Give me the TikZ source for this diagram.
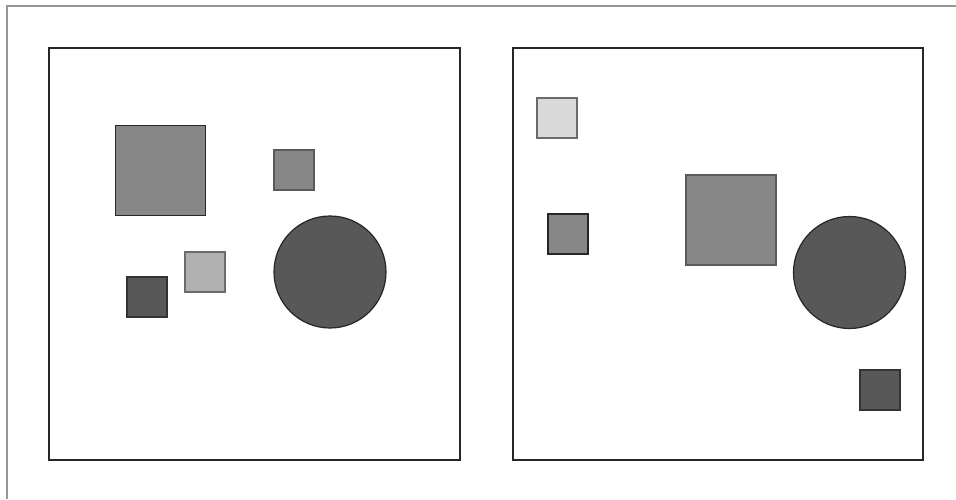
\documentclass[tikz,border=0pt]{standalone}
\usepackage{tikz}
\usetikzlibrary{positioning}
\definecolor{shapeLight}{RGB}{218,218,218}
\definecolor{shapePale}{RGB}{176,176,176}
\definecolor{shapeMid}{RGB}{135,135,135}
\definecolor{shapeDark}{RGB}{88,88,88}
\definecolor{edgeGray}{RGB}{90,90,90}
\definecolor{frameGray}{RGB}{150,150,150}
\tikzset{
  panel/.style={draw=black!85, line width=1.5pt, fill=white},
  outerframe/.style={draw=frameGray, line width=1.6pt},
  sq/.style={rectangle, minimum size=40pt, inner sep=0pt, line width=1.3pt},
  bigsq/.style={sq, minimum size=90pt},
  blob/.style={circle, minimum size=112pt, inner sep=0pt, line width=1.2pt,
               draw=black!85, fill=shapeDark},
}
\begin{document}
\begin{tikzpicture}[x=1pt, y=-1pt]
  \useasboundingbox (0,0) rectangle (956,499);
  \coordinate (frameTR) at (956,6); \coordinate (frameTL) at (7,6);
  \coordinate (frameBL) at (7,499);
  \draw[outerframe] (frameTR) -- (frameTL) -- (frameBL);
  % two panels
  \draw[panel] (49,48) rectangle (460,460);
  \draw[panel] (513,48) rectangle (923,460);
  % left panel
  \node[bigsq, draw=black!85, fill=shapeMid] (lbig) at (160.5,170.5) {};
  \node[sq, draw=edgeGray, fill=shapeMid] (ltop) at (294,170) {};
  \node[sq, draw=edgeGray!90, fill=shapePale] (lpale) at (205,272) {};
  \node[sq, draw=black!80, fill=shapeDark] (ldark) at (147,297) {};
  \node[blob] (lcirc) at (330,272) {};
  % right panel
  \node[sq, draw=edgeGray!90, fill=shapeLight] (rlight) at (557,118) {};
  \node[sq, draw=black!85, fill=shapeMid] (rmid) at (568,234) {};
  \node[bigsq, draw=edgeGray, fill=shapeMid] (rbig) at (731,220) {};
  \node[blob] (rcirc) at (849.5,272.5) {};
  \node[sq, draw=black!80, fill=shapeDark] (rdark) at (880,390) {};
\end{tikzpicture}
\end{document}
